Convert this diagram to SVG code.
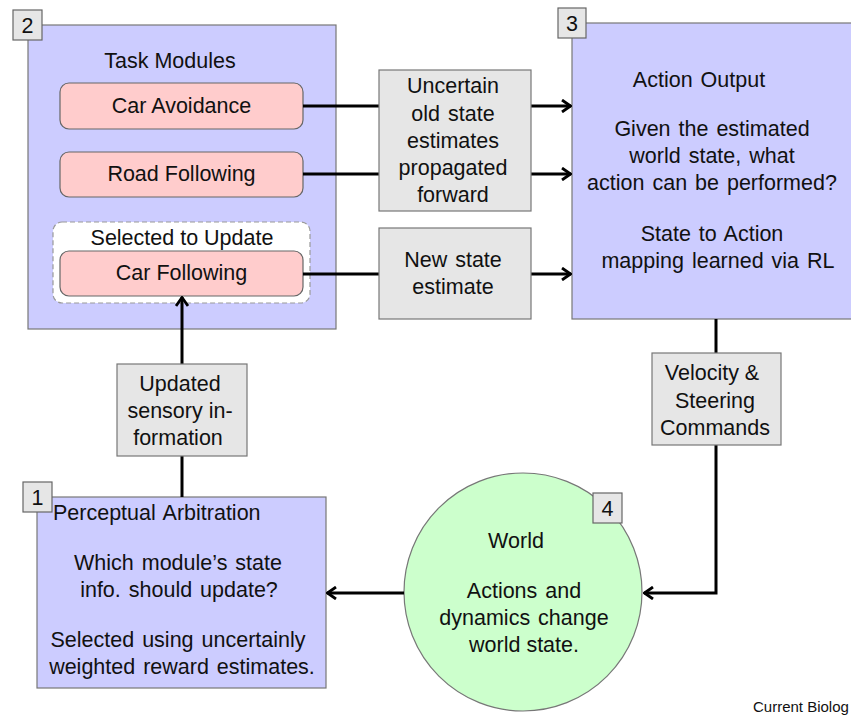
<svg xmlns="http://www.w3.org/2000/svg" width="851" height="715" viewBox="0 0 851 715">
<defs>
<style>
text{font-family:"Liberation Sans",Arial,sans-serif;font-size:21.5px;fill:#111}
.c{text-anchor:middle}
.ws{word-spacing:2px}
.blue{fill:#ccccff;stroke:#777;stroke-width:1.2}
.pink{fill:#ffcccc;stroke:#666;stroke-width:1.2}
.gray{fill:#e6e6e6;stroke:#777;stroke-width:1.2}
.green{fill:#ccffcc;stroke:#777;stroke-width:1.2}
.sel{fill:#ffffff;stroke:#999;stroke-width:1.2;stroke-dasharray:5 3}
.num{fill:#e6e6e6;stroke:#666;stroke-width:1.2}
.ln{fill:none;stroke:#000;stroke-width:3}
</style>
<marker id="ah" viewBox="0 0 12 14" refX="11" refY="7" markerWidth="12" markerHeight="14" markerUnits="userSpaceOnUse" orient="auto">
<path d="M2,1 L10.5,7 L2,13" fill="none" stroke="#000" stroke-width="2.8"/>
</marker>
</defs>
<rect width="851" height="715" fill="#ffffff"/>

<g id="node2">
<rect class="blue" x="28" y="25" width="308" height="304"/>
<rect class="num" x="13" y="10" width="29" height="30"/>
<text class="c" x="27.5" y="33">2</text>
<text class="c" x="170" y="68">Task Modules</text>
<g id="car-avoidance">
<rect class="pink" x="60" y="83" width="243" height="46" rx="9"/>
<text class="c" x="181.5" y="113">Car Avoidance</text>
</g>
<g id="road-following">
<rect class="pink" x="60" y="152" width="243" height="45" rx="9"/>
<text class="c" x="181.5" y="181">Road Following</text>
</g>
<g id="selected">
<rect class="sel" x="53" y="222" width="257" height="81" rx="9"/>
<text class="c" x="182" y="245">Selected to Update</text>
<rect class="pink" x="60" y="251" width="243" height="45" rx="9"/>
<text class="c" x="181.5" y="280">Car Following</text>
</g>
</g>

<g id="node3">
<rect class="blue" x="572" y="23" width="290" height="296"/>
<rect class="num" x="558" y="8" width="28" height="30"/>
<text class="c" x="572" y="31">3</text>
<text class="c ws" x="699" y="87">Action Output</text>
<text class="c ws" x="712" y="136">Given the estimated</text>
<text class="c ws" x="712" y="163">world state, what</text>
<text class="c ws" x="712" y="190">action can be performed?</text>
<text class="c ws" x="712" y="241">State to Action</text>
<text class="c ws" x="718" y="268">mapping learned via RL</text>
</g>

<g id="node1">
<rect class="blue" x="37" y="497" width="289" height="191"/>
<rect class="num" x="23" y="482" width="29" height="30"/>
<text class="c" x="37.5" y="505">1</text>
<text class="ws" x="53" y="520">Perceptual Arbitration</text>
<text class="c ws" x="178" y="570">Which module’s state</text>
<text class="c ws" x="179" y="597">info. should update?</text>
<text class="c ws" x="178" y="647">Selected using uncertainly</text>
<text class="c ws" x="182" y="674">weighted reward estimates.</text>
</g>

<g id="node4">
<circle class="green" cx="523" cy="592" r="119"/>
<rect class="num" x="593" y="493" width="29" height="30"/>
<text class="c" x="607.5" y="516">4</text>
<text class="c" x="516" y="548">World</text>
<text class="c ws" x="524" y="598">Actions and</text>
<text class="c ws" x="524" y="625">dynamics change</text>
<text class="c" x="524" y="652">world state.</text>
</g>

<g id="connectors">
<path class="ln" d="M303,106 H379"/>
<path class="ln" d="M531,106 H571" marker-end="url(#ah)"/>
<path class="ln" d="M303,174 H379"/>
<path class="ln" d="M531,174 H571" marker-end="url(#ah)"/>
<path class="ln" d="M303,274 H379"/>
<path class="ln" d="M531,274 H571" marker-end="url(#ah)"/>
<path class="ln" d="M182,497 V456"/>
<path class="ln" d="M182,364 V297" marker-end="url(#ah)"/>
<path class="ln" d="M716,319 V353"/>
<path class="ln" d="M716,445 V593 H644" marker-end="url(#ah)"/>
<path class="ln" d="M404,593 H327" marker-end="url(#ah)"/>
</g>

<g id="label-uncertain">
<rect class="gray" x="379" y="70" width="152" height="141"/>
<text class="c" x="453" y="93">Uncertain</text>
<text class="c ws" x="453" y="121">old state</text>
<text class="c" x="453" y="148">estimates</text>
<text class="c" x="453" y="175">propagated</text>
<text class="c" x="453" y="202">forward</text>
</g>
<g id="label-new">
<rect class="gray" x="379" y="228" width="152" height="91"/>
<text class="c ws" x="453" y="267">New state</text>
<text class="c" x="453" y="294">estimate</text>
</g>
<g id="label-updated">
<rect class="gray" x="117" y="364" width="130" height="92"/>
<text class="c" x="180" y="391">Updated</text>
<text class="c" x="180" y="418">sensory in-</text>
<text class="c" x="178" y="445">formation</text>
</g>
<g id="label-velocity">
<rect class="gray" x="652" y="353" width="129" height="92"/>
<text class="c" x="712" y="380">Velocity &amp;</text>
<text class="c" x="715" y="408">Steering</text>
<text class="c" x="715" y="435">Commands</text>
</g>

<text x="753" y="712" style="font-size:15px">Current Biolog</text>
</svg>
